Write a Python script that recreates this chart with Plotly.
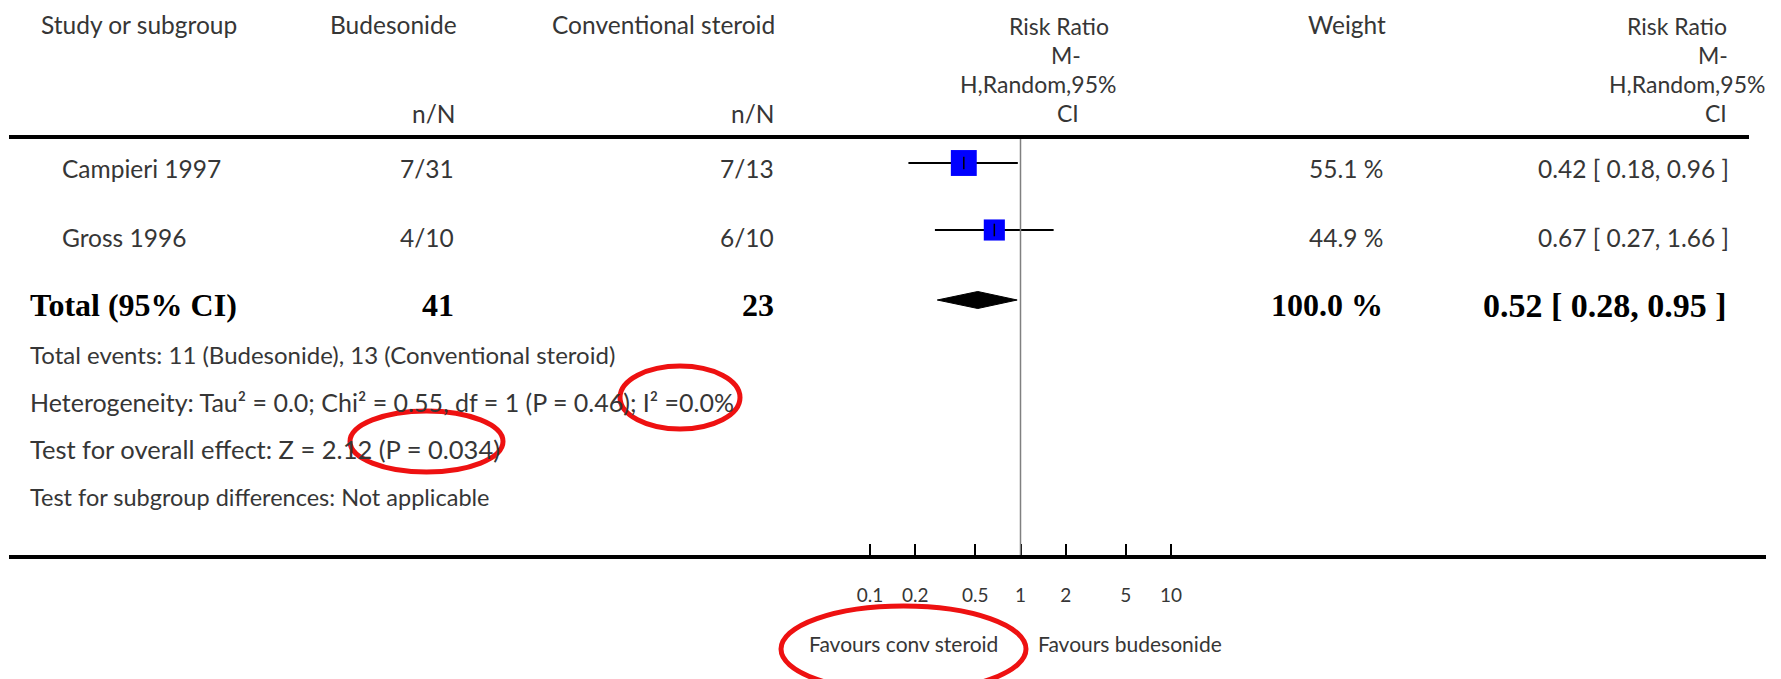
import math
import plotly.graph_objects as go

# ---- data ----
studies = ["Campieri 1997", "Gross 1996"]
bud_events = [7, 4]
bud_total = [31, 10]
conv_events = [7, 6]
conv_total = [13, 10]
weights = [55.1, 44.9]
rr = [0.42, 0.67]
ci_lo = [0.18, 0.27]
ci_hi = [0.96, 1.66]

total_label = "Total (95% CI)"
total_bud = 41
total_conv = 23
total_weight = 100.0
total_rr = 0.52
total_lo = 0.28
total_hi = 0.95

tick_vals = [0.1, 0.2, 0.5, 1, 2, 5, 10]
tick_text = ["0.1", "0.2", "0.5", "1", "2", "5", "10"]

footnotes = [
    "Total events: 11 (Budesonide), 13 (Conventional steroid)",
    "Heterogeneity: Tau² = 0.0; Chi² = 0.55, df = 1 (P = 0.46); I² =0.0%",
    "Test for overall effect: Z = 2.12 (P = 0.034)",
    "Test for subgroup differences: Not applicable",
]

# ---- layout helpers (pixel -> paper) ----
W, H = 1781, 679
SANS = "Lato, Roboto, sans-serif"
SERIF = "Liberation Serif, Times New Roman, serif"
GREY_TXT = "#363636"
PAD = 2  # annotation box padding compensation
FS = 24.5


def px(x):
    return x / W


def py(y):
    return 1 - y / H


# log axis: RR=1 at x=1020.5 px, one decade = 150.5 px
X_LEFT, X_RIGHT = 9, 1766
CENTER, DECADE = 1020.5, 150.5
AXIS_Y = 555
x_range = [(X_LEFT - CENTER) / DECADE, (X_RIGHT - CENTER) / DECADE]

row_y = [163, 230, 300]        # mark rows (pixels from top)
text_y = [168, 237, 305]       # text rows

fig = go.Figure()

# confidence intervals, weighted squares, point ticks
for i in range(len(studies)):
    fig.add_trace(go.Scatter(
        x=[ci_lo[i], ci_hi[i]], y=[row_y[i], row_y[i]], mode="lines",
        line=dict(color="black", width=2), hoverinfo="skip", showlegend=False))
    fig.add_trace(go.Scatter(
        x=[rr[i]], y=[row_y[i]], mode="markers",
        marker=dict(symbol="square", size=weights[i] * 0.47, color="#0000ff",
                    line=dict(width=0)),
        hoverinfo="skip", showlegend=False))
    fig.add_trace(go.Scatter(
        x=[rr[i]], y=[row_y[i]], mode="markers",
        marker=dict(symbol="line-ns", size=9, line=dict(width=1.5, color="black")),
        hoverinfo="skip", showlegend=False))

# pooled estimate diamond
ty = row_y[2]
fig.add_trace(go.Scatter(
    x=[total_lo, total_rr, total_hi, total_rr, total_lo],
    y=[ty, ty - 8.5, ty, ty + 8.5, ty],
    mode="lines", fill="toself", fillcolor="black",
    line=dict(color="black", width=1), hoverinfo="skip", showlegend=False))

shapes = []
# line of no effect
shapes.append(dict(type="line", xref="x", yref="y", x0=1, x1=1, y0=137, y1=AXIS_Y,
                   line=dict(color="#808080", width=1.5)))
# header rule
shapes.append(dict(type="line", xref="paper", yref="paper", x0=px(9), x1=px(1749),
                   y0=py(137), y1=py(137), line=dict(color="black", width=4)))
# red highlight ellipses
RED = "#ee1111"
for (x0, y0, x1, y1) in [(620, 366, 740, 429), (350, 411, 503, 472), (781, 606, 1026, 692)]:
    shapes.append(dict(type="circle", xref="paper", yref="paper",
                       x0=px(x0), x1=px(x1), y0=py(y1), y1=py(y0),
                       line=dict(color=RED, width=5)))

ann = []


def txt(x, y, s, anchor="left", size=FS, font=SANS, color=GREY_TXT, bold=False):
    if bold:
        s = "<b>" + s + "</b>"
    if anchor == "left":
        x -= PAD
    elif anchor == "right":
        x += PAD
    ann.append(dict(x=px(x), y=py(y), xref="paper", yref="paper", text=s,
                    showarrow=False, xanchor=anchor, yanchor="middle",
                    font=dict(family=font, size=size, color=color)))


# column headers
txt(41, 25, "Study or subgroup")
txt(457, 25, "Budesonide", "right")
txt(775, 25, "Conventional steroid", "right")
txt(455, 114, "n/N", "right")
txt(774, 114, "n/N", "right")
HS = 23
for (cx, cy, s) in [(1059, 26, "Risk Ratio"), (1066, 55, "M-"),
                    (1038, 84, "H,Random,95%"), (1068, 113, "CI")]:
    txt(cx, cy, s, "center", size=HS)
txt(1308, 25, "Weight")
txt(1727, 26, "Risk Ratio", "right", size=HS)
txt(1728, 55, "M-", "right", size=HS)
txt(1765, 84, "H,Random,95%", "right", size=HS)
txt(1727, 113, "CI", "right", size=HS)

# study rows
for i, name in enumerate(studies):
    y = text_y[i]
    txt(62, y, name)
    txt(454, y, f"{bud_events[i]}/{bud_total[i]}", "right")
    txt(774, y, f"{conv_events[i]}/{conv_total[i]}", "right")
    txt(1383, y, f"{weights[i]:.1f} %", "right")
    txt(1729, y, f"{rr[i]:.2f} [ {ci_lo[i]:.2f}, {ci_hi[i]:.2f} ]", "right")

# pooled row
y = text_y[2]
BS = 32
txt(30, y, total_label, size=BS, font=SERIF, color="black", bold=True)
txt(454, y, str(total_bud), "right", size=BS, font=SERIF, color="black", bold=True)
txt(774, y, str(total_conv), "right", size=BS, font=SERIF, color="black", bold=True)
txt(1383, y, f"{total_weight:.1f} %", "right", size=BS, font=SERIF, color="black", bold=True)
txt(1727, y, f"{total_rr:.2f} [ {total_lo:.2f}, {total_hi:.2f} ]", "right",
    size=34, font=SERIF, color="black", bold=True)

# footnotes
foot_sizes = [24, 25, 25.5, 23.5]
for k, line in enumerate(footnotes):
    txt(30, 354 + k * 47.7, line, size=foot_sizes[k])

# favours labels
txt(903, 643, "Favours conv steroid", "center", size=21)
txt(1130, 643, "Favours budesonide", "center", size=21)

fig.update_layout(
    width=W, height=H,
    margin=dict(l=0, r=0, t=0, b=0),
    paper_bgcolor="white", plot_bgcolor="white",
    showlegend=False,
    shapes=shapes, annotations=ann,
    xaxis=dict(type="log", domain=[px(X_LEFT), px(X_RIGHT)], range=x_range,
               showgrid=False, zeroline=False,
               showline=True, linecolor="black", linewidth=4,
               ticks="inside", ticklen=11, tickwidth=2, tickcolor="black",
               tickvals=tick_vals, ticktext=tick_text,
               tickfont=dict(family=SANS, size=19, color=GREY_TXT),
               ticklabelstandoff=20, fixedrange=True),
    yaxis=dict(domain=[py(AXIS_Y), 1], range=[AXIS_Y, 0],
               visible=False, fixedrange=True),
)

fig.write_html("out.html")
